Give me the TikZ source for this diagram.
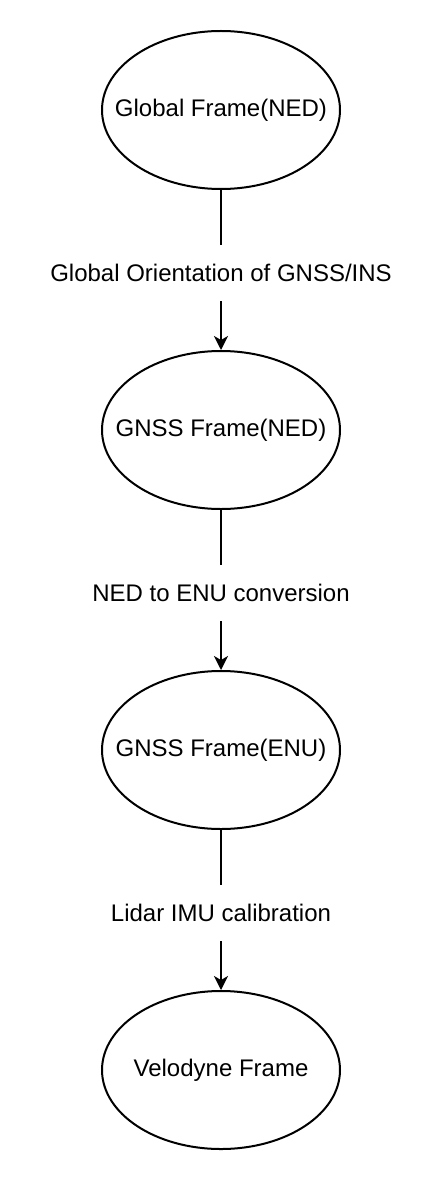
\documentclass[tikz,border=0pt]{standalone}
\usepackage{fontspec}
\setmainfont{Liberation Sans}
\usepackage{tikz}
\usetikzlibrary{shapes, arrows.meta, positioning}
\def\fname#1{\makebox[0pt]{#1}}

\begin{document}
\begin{tikzpicture}[
            style = {line width=1pt},
            frame/.style = {draw, ellipse, minimum width=119pt, minimum height=79pt, inner sep=0pt, font=\fontsize{12}{14}\selectfont},
            lbl/.style = {fill=white, inner xsep=2pt, inner ysep=9.5pt, font=\fontsize{12}{14}\selectfont},
            node distance = 80pt]
            \useasboundingbox (0,0) rectangle (221pt,-591pt);
            \node (global) [frame] at (110.5pt,-55pt) {\fname{Global Frame(NED)}};
            \node (gnssned) [frame, below=of global] {\fname{GNSS Frame(NED)}};
            \node (gnssenu) [frame, below=of gnssned] {\fname{GNSS Frame(ENU)}};
            \node (velo) [frame, below=of gnssenu] {\fname{Velodyne Frame}};
            % transforms between frames
            \draw [-{Stealth[length=7pt, width=7pt, inset=2pt]}] (global) -- node [lbl, yshift=-1.5pt] {Global Orientation of GNSS/INS} (gnssned);
            \draw [-{Stealth[length=7pt, width=7pt, inset=2pt]}] (gnssned) -- node [lbl, yshift=-1.5pt] {NED to ENU conversion} (gnssenu);
            \draw [-{Stealth[length=7pt, width=7pt, inset=2pt]}] (gnssenu) -- node [lbl, yshift=-1.5pt] {Lidar IMU calibration} (velo);
\end{tikzpicture}
\end{document}
